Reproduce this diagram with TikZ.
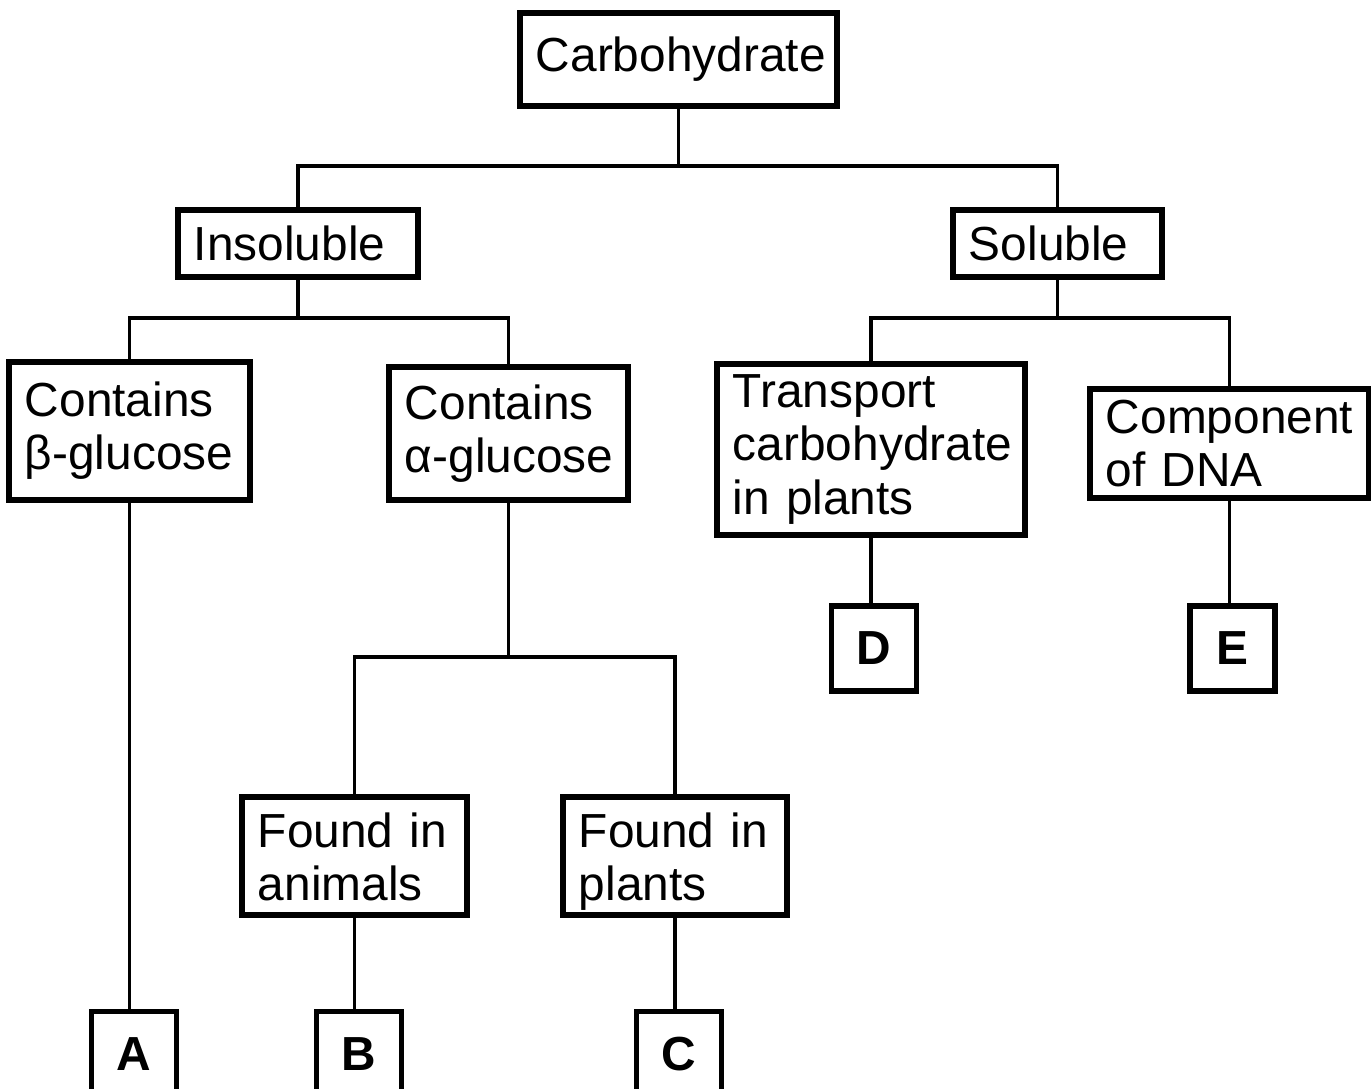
\documentclass[tikz,border=0pt]{standalone}
\usepackage{fontspec}
\setmainfont{Liberation Sans}
\hyphenpenalty=10000
\hbadness=10000
\hfuzz=20pt
\tikzset{
  box/.style={
    draw, line width=1.5pt, align=left,
    inner xsep=0.16cm, inner ysep=0.05cm,
    font=\fontsize{13.6}{15.1}\selectfont
  },
  letter/.style={
    draw, line width=1.5pt,
    minimum width=0.85cm, minimum height=0.85cm,
    font=\fontsize{13.6}{15.1}\selectfont\bfseries
  },
  link/.style={
    line width=1.1pt
  }
}
\begin{document}
\begin{tikzpicture}[x=0.01cm, y=-0.01cm]
      \useasboundingbox (0,0) rectangle (1371,1088);
      \node[box, text width=2.85cm, minimum height=0.93cm] (carb) at (678.5,59.5) {Carbohydrate};
      \node[box, text width=2.08cm, minimum height=0.67cm] (insol) at (298,243.5) {Insoluble};
      \node[box, text width=1.77cm, minimum height=0.67cm] (sol) at (1057.5,243.5) {Soluble};
      \node[box, text width=2.09cm, minimum height=1.38cm] (beta) at (129.5,431) {Contains\\\mbox{β-glucose}};
      \node[box, text width=2.07cm, minimum height=1.33cm] (alpha) at (508.5,433.5) {Contains\\\mbox{α-glucose}};
      \node[box, text width=2.76cm, minimum height=1.71cm] (trans) at (871,449.5) {Transport\\carbohydrate\\in plants};
      \node[box, text width=2.47cm, minimum height=1.09cm] (comp) at (1229.5,443.5) {Component\\of DNA};
      \node[box, inner ysep=0pt, text width=1.93cm, minimum height=1.18cm] (animals) at (354.5,856) {\rule{0pt}{13pt}Found in\\animals\vphantom{p}};
      \node[box, inner ysep=0pt, text width=1.92cm, minimum height=1.18cm] (plants) at (675,856) {\rule{0pt}{13pt}Found in\\plants};
      \node[letter] (A) at (134,1054) {A};
      \node[letter] (B) at (359,1054) {B};
      \node[letter] (C) at (679,1054) {C};
      \node[letter] (D) at (874,648.5) {D};
      \node[letter] (E) at (1232.5,648.5) {E};
      % branches
      \draw[link] (carb.south) -- ++(0,57) coordinate (c1) -| (insol.north);
      \draw[link] (c1) -| (sol.north);
      \draw[link] (insol.south) -- ++(0,38) coordinate (i1) -| (beta.north);
      \draw[link] (i1) -| (alpha.north);
      \draw[link] (sol.south) -- ++(0,38) coordinate (s1) -| (trans.north);
      \draw[link] (s1) -| (comp.north);
      \draw[link] (alpha.south) -- ++(0,154) coordinate (a1) -| (animals.north);
      \draw[link] (a1) -| (plants.north);
      % leaves
      \draw[link] (beta.south) -- (beta.south |- A.north);
      \draw[link] (animals.south) -- (animals.south |- B.north);
      \draw[link] (plants.south) -- (plants.south |- C.north);
      \draw[link] (trans.south) -- (trans.south |- D.north);
      \draw[link] (comp.south) -- (comp.south |- E.north);
    \end{tikzpicture}
\end{document}
